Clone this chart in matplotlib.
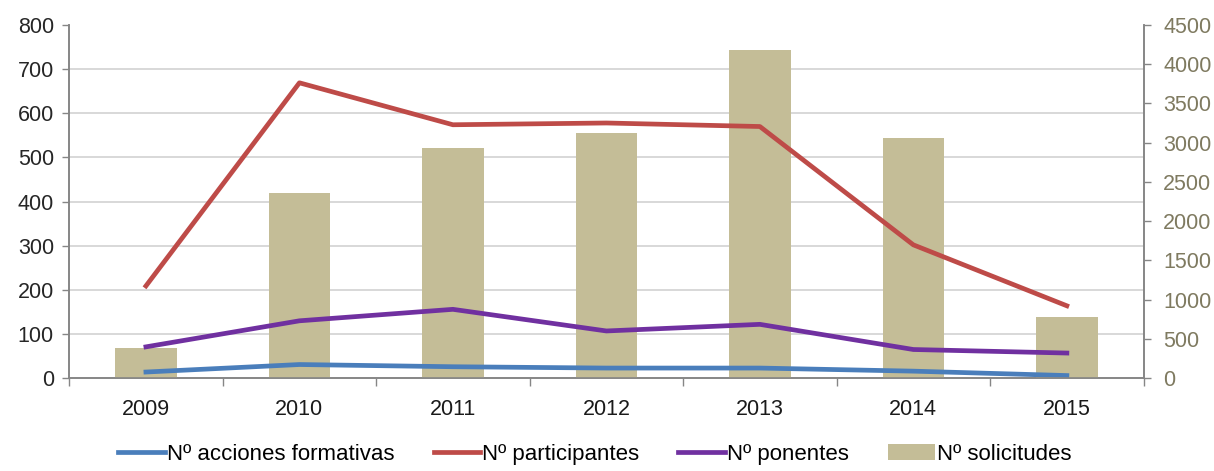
import numpy as np
import matplotlib
matplotlib.use("Agg")
import matplotlib.pyplot as plt

years = ["2009", "2010", "2011", "2012", "2013", "2014", "2015"]
acciones = [14, 31, 26, 23, 23, 16, 6]
participantes = [209, 669, 574, 578, 570, 302, 164]
ponentes = [71, 130, 156, 107, 122, 65, 57]
solicitudes = [386, 2355, 2933, 3129, 4184, 3066, 774]

left_ticks = np.arange(0, 801, 100)
right_ticks = np.arange(0, 4501, 500)

plt.rcParams["font.family"] = ["Liberation Sans", "DejaVu Sans"]
plt.rcParams["font.size"] = 15.5

fig = plt.figure(figsize=(12.14, 4.71), dpi=100)
ax2 = fig.add_axes([0.057, 0.197, 0.885, 0.75])
ax = ax2.twinx()
# lines on top of bars, grid below bars
ax.set_zorder(ax2.get_zorder() + 1)
ax.patch.set_visible(False)

x = np.arange(len(years))

ax2.bar(x, solicitudes, width=0.4, color="#C4BD97", label="Nº solicitudes", zorder=3)
ax2.set_ylim(0, 4500)
ax2.set_yticks(right_ticks)
ax2.yaxis.tick_right()
# grid at the left-axis ticks, expressed in the right-axis scale
ax2.set_yticks(left_ticks * 4500 / 800, minor=True)
ax2.grid(which="minor", axis="y", color="#D6D6D6", lw=1.3, zorder=0)
ax2.tick_params(axis="y", which="minor", length=0)
ax2.tick_params(axis="y", which="major", color="#868686", labelcolor="#7F7A60",
                length=5, width=1, pad=9)

l1, = ax.plot(x, acciones, color="#4A7EBB", lw=3.4, label="Nº acciones formativas")
l2, = ax.plot(x, participantes, color="#BE4B48", lw=3.4, label="Nº participantes")
l3, = ax.plot(x, ponentes, color="#7030A0", lw=3.4, label="Nº ponentes")
ax.set_ylim(0, 800)
ax.set_yticks(left_ticks)
ax.yaxis.tick_left()
ax.tick_params(axis="y", color="#868686", labelcolor="#262626", length=5, width=1, pad=6)

ax2.set_xlim(-0.5, len(years) - 0.5)
ax2.set_xticks(np.arange(-0.5, len(years)), labels=[""] * (len(years) + 1))
ax2.set_xticks(x, labels=years, minor=True)
ax2.tick_params(axis="x", which="major", length=6, width=1, color="#868686")
ax2.tick_params(axis="x", which="minor", length=0, pad=15, labelcolor="#1a1a1a")
ax.set_xlim(ax2.get_xlim())

for a in (ax, ax2):
    a.spines["top"].set_visible(False)
    for s in ("left", "right", "bottom"):
        a.spines[s].set_color("#868686")
        a.spines[s].set_linewidth(1.2)

bars = ax2.containers[0]
fig.legend([l1, l2, l3, bars],
           ["Nº acciones formativas", "Nº participantes", "Nº ponentes", "Nº solicitudes"],
           loc="center", bbox_to_anchor=(0.490, 0.036), ncol=4, frameon=False,
           handlelength=2.1, handletextpad=0.1, columnspacing=1.75, fontsize=16)

fig.savefig("out.png", dpi=100)
